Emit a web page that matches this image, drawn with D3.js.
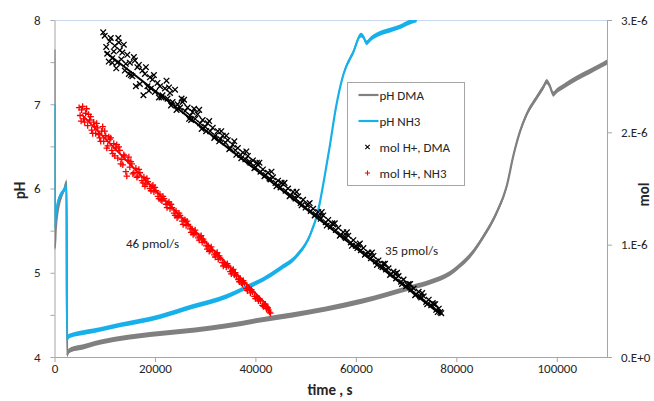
<!DOCTYPE html>
<html>
<head>
<meta charset="utf-8">
<script src="https://cdn.jsdelivr.net/npm/d3@7"></script>
<style>
  html, body { margin: 0; padding: 0; background: #fff; }
  svg text { font-family: Carlito, Lato, "Open Sans", sans-serif; fill: #262626; }
</style>
</head>
<body>
<svg id="chart" width="654" height="401"></svg>
<script>
// ---- axis ticks -------------------------------------------------------
const timeTicks = [0, 20000, 40000, 60000, 80000, 100000];
const pHTicks = [4, 4.5, 5, 5.5, 6, 6.5, 7, 7.5, 8];
const pHLabelled = [4, 5, 6, 7, 8];
const molTicks = [0, 1e-6, 2e-6, 3e-6];
const molTickLabels = ["0.E+0", "1.E-6", "2.E-6", "3.E-6"];

// ---- pH traces: [time s, pH] ---------------------------------------------
const pHDMA = [
  [0, 7.65], [60, 5.29], [250, 5.52], [600, 5.72], [1000, 5.84], [1500, 5.93],
  [2000, 6.0], [2400, 6.08], [2500, 4.02], [2700, 4.06], [3100, 4.08], [4000, 4.10],
  [5700, 4.12], [8000, 4.16], [13000, 4.22], [21000, 4.28], [28000, 4.32],
  [34300, 4.37], [41000, 4.44], [47500, 4.50], [54000, 4.57], [61000, 4.66],
  [66000, 4.74], [71400, 4.83], [74800, 4.89], [78700, 4.99], [81000, 5.10],
  [82700, 5.20], [85400, 5.43], [88000, 5.71], [90000, 6.02], [91400, 6.40],
  [92700, 6.68], [94000, 6.88], [96000, 7.08], [97300, 7.20], [98000, 7.27],
  [98600, 7.22], [99300, 7.12], [100000, 7.16], [101300, 7.21], [104000, 7.31],
  [106600, 7.39], [108500, 7.45], [110000, 7.50]
];
const pHNH3 = [
  [0, 7.0], [60, 5.55], [250, 5.68], [600, 5.82], [1000, 5.90], [1500, 5.95],
  [2000, 5.99], [2400, 6.03], [2500, 4.20], [2700, 4.24], [4000, 4.27], [5700, 4.29],
  [7700, 4.31], [13000, 4.38], [21000, 4.48], [27600, 4.60], [34300, 4.72],
  [37600, 4.81], [41500, 4.92], [44900, 5.05], [48200, 5.20], [50900, 5.45],
  [52500, 5.74], [53800, 6.15], [54800, 6.50], [56000, 6.95], [57500, 7.35],
  [59500, 7.62], [61000, 7.82], [61500, 7.80], [62100, 7.73], [63000, 7.78],
  [64800, 7.84], [66800, 7.88], [68800, 7.92], [70500, 7.97], [72100, 8.0]
];

// ---- cumulative acid: [time s, mol H+ in µmol] ----------------------------
const molDMA = [
  [10000,2.86],[10500,2.70],[11000,2.81],[11500,2.66],[12000,2.77],[12500,2.62],[13000,2.73],[13500,2.71],
  [14000,2.55],[14500,2.69],[15000,2.62],[15500,2.50],[16000,2.64],[16500,2.58],[17000,2.43],[17500,2.55],
  [18000,2.52],[18500,2.41],[19000,2.49],[19500,2.47],[20000,2.36],[20500,2.44],[21000,2.41],[21500,2.33],
  [22000,2.39],[22500,2.30],[23000,2.35],[23500,2.27],[24000,2.38],[24500,2.25],[25000,2.22],[25500,2.27],
  [26000,2.19],[26500,2.22],[27000,2.15],[27500,2.18],[28000,2.12],[28500,2.16],[29000,2.08],[29500,2.11],
  [30000,2.05],[30500,2.08],[31000,2.01],[31500,2.04],[32000,1.97],[32500,2.01],[33000,1.94],[33500,1.97],
  [34000,1.91],[34500,1.93],[35000,1.86],[35500,1.89],[36000,1.84],[36500,1.86],[37000,1.80],[37500,1.82],
  [38000,1.76],[38500,1.79],[39000,1.73],[39500,1.75],[40000,1.69],[40500,1.71],[41000,1.65],[41500,1.67],
  [42000,1.62],[42500,1.64],[43000,1.58],[43500,1.60],[44000,1.55],[44500,1.57],[45000,1.51],[45500,1.54],
  [46000,1.48],[46500,1.50],[47000,1.44],[47500,1.47],[48000,1.41],[48500,1.43],[49000,1.37],[49500,1.40],
  [50000,1.33],[50500,1.36],[51000,1.30],[51500,1.32],[52000,1.27],[52500,1.29],[53000,1.23],[53500,1.26],
  [54000,1.20],[54500,1.22],[55000,1.16],[55500,1.18],[56000,1.13],[56500,1.15],[57000,1.09],[57500,1.11],
  [58000,1.06],[58500,1.08],[59000,1.02],[59500,1.04],[60000,0.99],[60500,1.00],[61000,0.95],[61500,0.97],
  [62000,0.92],[62500,0.93],[63000,0.88],[63500,0.90],[64000,0.85],[64500,0.86],[65000,0.81],[65500,0.83],
  [66000,0.78],[66500,0.79],[67000,0.74],[67500,0.76],[68000,0.70],[68500,0.72],[69000,0.67],[69500,0.69],
  [70000,0.63],[70500,0.65],[71000,0.60],[71500,0.61],[72000,0.56],[72500,0.58],[73000,0.53],[73500,0.54],
  [74000,0.49],[74500,0.51],[75000,0.46],[75500,0.47],[76000,0.42],[76500,0.43],[77000,0.39],
  [9700,2.89],[10300,2.76],[10800,2.63],[11200,2.84],[11800,2.72],[12300,2.57],[12800,2.80],[13300,2.65],
  [13800,2.78],[14200,2.61],[15200,2.51],[15800,2.67],[16200,2.41],[17700,2.33],[18200,2.58],[19200,2.39],
  [20800,2.31],[22300,2.46],[23200,2.24],[25300,2.30],[27200,2.11],[28800,2.20],[30200,2.01],[32800,1.92],
  [34200,1.97],[36200,1.80],[38800,1.74],[40300,1.73],[42800,1.59],[45200,1.55],[47800,1.42],[50300,1.35],
  [52800,1.25],[55300,1.19],[57800,1.07],[60300,0.97],[62800,0.91],[65300,0.80],[67800,0.74],[70300,0.64],
  [72800,0.54],[75300,0.48],[76800,0.40],
  [11500,2.62],[12700,2.84],[14800,2.52],[16800,2.60],[18800,2.37],[19800,2.51],[21300,2.31],[22800,2.40],
  [24300,2.20],[25800,2.29],[26800,2.12],[27800,2.21],[29300,2.03],[30800,2.10],[31800,1.95],[33200,2.01],
  [34800,1.85],[35800,1.92],[37200,1.77],[38200,1.83],[39800,1.68],[40800,1.73],[41800,1.61],[43200,1.65],
  [44200,1.52],[45800,1.55],[46800,1.43],[48200,1.47],[49200,1.35],[50800,1.37],[51800,1.26],[53200,1.29],
  [54200,1.17],[55800,1.19],[56800,1.08],[58200,1.11],[59200,0.99],[60800,1.01],[61800,0.91],[63200,0.93],
  [64200,0.82],[65800,0.83],[66800,0.73],[68200,0.75],[69200,0.65],[70800,0.65],[71800,0.55],[73200,0.57],
  [74200,0.47],[75800,0.47],[76300,0.40]
];
const molNH3 = [
  [5400,2.20],[5800,2.12],[6200,2.17],[6600,2.06],[7000,2.11],[7400,2.02],[7800,2.09],[8200,1.99],
  [8600,2.04],[9000,1.95],[9400,2.01],[9800,1.92],[10200,1.97],[10600,1.88],[11000,1.94],[11400,1.84],
  [11800,1.90],[12200,1.86],[12600,1.77],[13000,1.84],[13400,1.76],[13800,1.80],[14200,1.65],[14600,1.75],
  [15000,1.69],[15400,1.72],[15800,1.64],[16200,1.68],[16600,1.61],[17000,1.64],[17400,1.57],[17800,1.60],
  [18200,1.54],[18600,1.56],[19000,1.50],[19400,1.52],[19800,1.47],[20200,1.48],[20600,1.43],[21000,1.45],
  [21400,1.39],[21800,1.41],[22200,1.36],[22600,1.37],[23000,1.32],[23400,1.33],[23800,1.28],[24200,1.30],
  [24600,1.25],[25000,1.26],[25400,1.21],[25800,1.22],[26200,1.17],[26600,1.18],[27000,1.14],[27400,1.14],
  [27800,1.10],[28200,1.10],[28600,1.06],[29000,1.07],[29400,1.02],[29800,1.03],[30200,0.99],[30600,0.99],
  [31000,0.95],[31400,0.95],[31800,0.91],[32200,0.92],[32600,0.87],[33000,0.88],[33400,0.84],[33800,0.84],
  [34200,0.80],[34600,0.81],[35000,0.76],[35400,0.77],[35800,0.73],[36200,0.72],[36600,0.69],[37000,0.70],
  [37400,0.65],[37800,0.66],[38200,0.61],[38600,0.62],[39000,0.57],[39400,0.58],[39800,0.54],[40200,0.54],
  [40600,0.50],[41000,0.50],[41400,0.46],[41800,0.47],[42200,0.43],[42600,0.42],[43000,0.39],
  [4900,2.22],[5100,2.15],[5600,2.23],[6000,2.09],[6400,2.21],[7200,2.14],[8000,2.05],[8800,1.98],
  [9600,2.05],[10800,1.96],[11600,1.81],[12400,1.89],[13200,1.72],[14000,1.79],[14400,1.61],[15200,1.74],
  [16400,1.60],[18000,1.52],[19600,1.53],[21200,1.40],[22800,1.38],[24400,1.24],[26000,1.22],[27600,1.09],
  [29200,1.08],[30800,0.94],[32400,0.93],[34000,0.82],[35600,0.78],[37200,0.66],[38800,0.61],[40400,0.52],
  [42000,0.47],
  [5300,2.10],[6800,2.16],[7600,1.99],[8400,2.08],[9200,1.92],[10000,2.01],[10400,1.86],[11200,1.95],
  [12000,1.79],[12800,1.87],[13600,1.71],[14800,1.78],[15600,1.63],[16800,1.67],[17600,1.55],[18400,1.59],
  [19200,1.48],[20000,1.51],[20800,1.41],[21600,1.43],[22400,1.33],[23200,1.36],[24000,1.26],[24800,1.28],
  [25600,1.18],[26400,1.21],[27200,1.11],[28000,1.13],[28800,1.04],[29600,1.05],[30400,0.96],[31200,0.98],
  [32000,0.89],[32800,0.90],[33600,0.81],[34400,0.83],[35200,0.74],[36000,0.75],[36800,0.67],[37600,0.68],
  [38400,0.59],[39200,0.60],[40000,0.52],[40800,0.52],[41600,0.45],[42400,0.44],[42800,0.40]
];

// ---- linear fits: start time, end time, start µmol, rate in pmol/s --------
const fitStart = [10000, 5400];
const fitEnd = [77000, 43000];
const fitStartMol = [2.72, 2.16];
const fitRate = [35, 46];

const MICRO = 1e-6, PICO = 1e-12;

// ---- layout ------------------------------------------------------------
const svg = d3.select("#chart");
const plotLeft = 54.5, plotRight = 607, plotTop = 20, plotBottom = 357;

const x = d3.scaleLinear().domain([0, 110000]).range([plotLeft, plotRight]);
const yPH = d3.scaleLinear().domain([4, 8]).range([plotBottom, plotTop]);
const yMol = d3.scaleLinear().domain([0, 3e-6]).range([plotBottom, plotTop]);

svg.append("rect").attr("width", 654).attr("height", 401).attr("fill", "#fff");

svg.append("defs").append("clipPath").attr("id", "plotClip")
  .append("rect").attr("x", plotLeft).attr("y", plotTop)
  .attr("width", plotRight - plotLeft).attr("height", plotBottom - plotTop);

// top border of the plot area
svg.append("line").attr("x1", plotLeft).attr("x2", plotRight)
  .attr("y1", plotTop + 0.5).attr("y2", plotTop + 0.5)
  .attr("stroke", "#c9d8ec").attr("stroke-width", 1.2);

// ---- axes --------------------------------------------------------------
const axisColor = "#a6a6a6";
function styleAxis(g) {
  g.selectAll(".domain").attr("stroke", axisColor);
  g.selectAll(".tick line").attr("stroke", axisColor);
  g.selectAll(".tick text").attr("fill", "#262626").attr("font-size", 13)
    .attr("font-family", "Carlito, Lato, 'Open Sans', sans-serif");
}

const gx = svg.append("g").attr("transform", `translate(0,${plotBottom})`)
  .call(d3.axisBottom(x).tickValues(timeTicks).tickSize(5).tickPadding(2).tickSizeOuter(0)
    .tickFormat(d3.format("d")));
styleAxis(gx);

const gy = svg.append("g").attr("transform", `translate(${plotLeft},0)`)
  .call(d3.axisLeft(yPH).tickValues(pHTicks).tickSize(4).tickPadding(10).tickSizeOuter(0)
    .tickFormat(d => pHLabelled.includes(d) ? d3.format("d")(d) : ""));
styleAxis(gy);

const gy2 = svg.append("g").attr("transform", `translate(${plotRight},0)`)
  .call(d3.axisRight(yMol).tickValues(molTicks).tickSize(5).tickPadding(9).tickSizeOuter(0)
    .tickFormat((d, i) => molTickLabels[i]));
styleAxis(gy2);

// axis titles
const midY = (plotTop + plotBottom) / 2;
svg.append("text").attr("transform", `translate(25,${midY + 2}) rotate(-90)`)
  .attr("text-anchor", "middle").attr("font-size", 15).attr("font-weight", "bold").text("pH");
svg.append("text").attr("transform", `translate(649,${midY + 6}) rotate(-90)`)
  .attr("text-anchor", "middle").attr("font-size", 15).attr("font-weight", "bold").text("mol");
svg.append("text").attr("x", 330).attr("y", 395)
  .attr("text-anchor", "middle").attr("font-size", 15).attr("font-weight", "bold").text("time , s");

// ---- pH traces (noisy band + centre line) -------------------------------
const plot = svg.append("g").attr("clip-path", "url(#plotClip)");

function pHTrace(data, color, spread) {
  const band = d3.area().curve(d3.curveMonotoneX)
    .x(d => x(d[0])).y0(d => yPH(d[1] - spread)).y1(d => yPH(d[1] + spread));
  const line = d3.line().curve(d3.curveMonotoneX).x(d => x(d[0])).y(d => yPH(d[1]));
  plot.append("path").datum(data).attr("d", band).attr("fill", color);
  plot.append("path").datum(data).attr("d", line).attr("fill", "none")
    .attr("stroke", color).attr("stroke-width", 2.2).attr("stroke-linejoin", "round");
}
pHTrace(pHDMA, "#808080", 0.03);
pHTrace(pHNH3, "#17b0ea", 0.028);

// ---- markers -----------------------------------------------------------
const crossPath = s => `M${-s},${-s}L${s},${s}M${-s},${s}L${s},${-s}`;
const plusPath = s => `M${-s},0L${s},0M0,${-s}L0,${s}`;

function fitLine(i, color) {
  const t0 = fitStart[i], t1 = fitEnd[i];
  const m0 = fitStartMol[i] * MICRO;
  const m1 = m0 - fitRate[i] * PICO * (t1 - t0);
  plot.append("line")
    .attr("x1", x(t0)).attr("y1", yMol(m0)).attr("x2", x(t1)).attr("y2", yMol(m1))
    .attr("stroke", color).attr("stroke-width", 2);
}

plot.append("g").selectAll("path").data(molDMA).join("path")
  .attr("transform", d => `translate(${x(d[0])},${yMol(d[1] * MICRO)})`)
  .attr("d", crossPath(2.8)).attr("stroke", "#000").attr("stroke-width", 1.3).attr("fill", "none");
fitLine(0, "#000");

plot.append("g").selectAll("path").data(molNH3).join("path")
  .attr("transform", d => `translate(${x(d[0])},${yMol(d[1] * MICRO)})`)
  .attr("d", plusPath(3.2)).attr("stroke", "#ff0000").attr("stroke-width", 1.3).attr("fill", "none");
fitLine(1, "#ff0000");

// rate annotations
svg.append("text").attr("x", 126).attr("y", 248).attr("font-size", 13).text(`${fitRate[1]} pmol/s`);
svg.append("text").attr("x", 385).attr("y", 255).attr("font-size", 13).text(`${fitRate[0]} pmol/s`);

// ---- legend ------------------------------------------------------------
const legendItems = [
  { label: "pH DMA", kind: "line", color: "#808080" },
  { label: "pH NH3", kind: "line", color: "#17b0ea" },
  { label: "mol H+, DMA", kind: "cross", color: "#000" },
  { label: "mol H+, NH3", kind: "plus", color: "#ff0000" }
];
const lg = svg.append("g").attr("transform", "translate(347.5,82.5)");
lg.append("rect").attr("width", 117).attr("height", 103)
  .attr("fill", "#fff").attr("stroke", "#a6a6a6").attr("stroke-width", 1);
legendItems.forEach((it, i) => {
  const cy = 12.5 + i * 26;
  const row = lg.append("g").attr("transform", `translate(0,${cy})`);
  if (it.kind === "line") {
    row.append("line").attr("x1", 11).attr("x2", 31).attr("stroke", it.color).attr("stroke-width", 2.2);
  } else {
    row.append("path").attr("transform", "translate(20,0)")
      .attr("d", it.kind === "cross" ? crossPath(2.2) : plusPath(2.6))
      .attr("stroke", it.color).attr("stroke-width", 1.1).attr("fill", "none");
  }
  row.append("text").attr("x", 32).attr("y", 0).attr("dy", "0.35em").attr("font-size", 13).text(it.label);
});
</script>
</body>
</html>
